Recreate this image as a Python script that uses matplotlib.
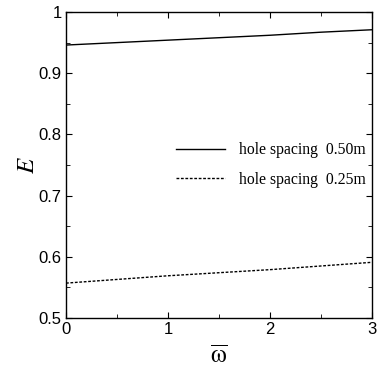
import matplotlib
matplotlib.use("Agg")
import matplotlib.pyplot as plt
from matplotlib.ticker import MultipleLocator

# values
omega = [0, 0.5, 1, 1.5, 2, 2.5, 3]
e_050 = [0.946, 0.950, 0.954, 0.958, 0.962, 0.967, 0.971]
e_025 = [0.557, 0.563, 0.569, 0.574, 0.579, 0.585, 0.591]

plt.rcParams['font.family'] = 'Liberation Sans'
plt.rcParams['mathtext.fontset'] = 'stix'

fig = plt.figure(figsize=(3.77, 3.67), dpi=100)
ax = fig.add_axes([66/377, 49/367, 306/377, 306/367])

ax.plot(omega, e_050, color='black', lw=1.0, ls='-', label='hole spacing  0.50m')
ax.plot(omega, e_025, color='black', lw=1.0, ls=(0, (2, 1.2)), label='hole spacing  0.25m')

ax.set_xlim(0, 3)
ax.set_ylim(0.5, 1.0)
ax.xaxis.set_major_locator(MultipleLocator(1))
ax.xaxis.set_minor_locator(MultipleLocator(0.5))
ax.yaxis.set_minor_locator(MultipleLocator(0.05))
ax.set_yticks([0.5, 0.6, 0.7, 0.8, 0.9, 1.0])
ax.set_yticklabels(['0.5', '0.6', '0.7', '0.8', '0.9', '1'])
ax.tick_params(which='both', direction='in', top=True, right=True, labelsize=12, pad=3)
ax.tick_params(which='major', length=4)
ax.tick_params(which='minor', length=3)
for s in ax.spines.values():
    s.set_linewidth(1.0)

ax.set_ylabel('$E$', fontsize=18, labelpad=0)
ax.set_xlabel(r'$\overline{\mathrm{\omega}}$', fontsize=18, labelpad=5)

leg = ax.legend(loc='center right', bbox_to_anchor=(1.0, 0.5), frameon=False,
                prop={'family': 'Liberation Serif', 'size': 11.3},
                handlelength=3.1, handletextpad=0.9, labelspacing=0.85, borderaxespad=0)

fig.savefig('out.png', dpi=100)
